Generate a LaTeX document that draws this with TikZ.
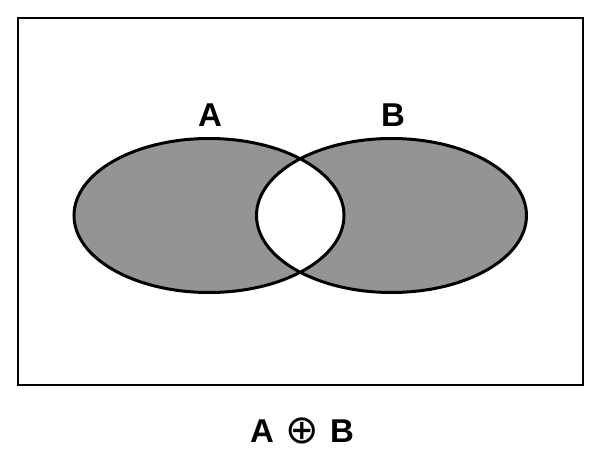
\documentclass[tikz,border=0pt]{standalone}
\usepackage{fontspec}
\setmainfont{Liberation Sans}
\newfontfamily\symfont{DejaVu Sans}
\tikzset{
  setlabel/.style={font=\fontsize{33}{36}\selectfont\bfseries, inner sep=0pt, anchor=base},
  setfill/.style={fill=black!42},
  setedge/.style={draw=black, line width=3pt},
  frame/.style={draw=black, line width=2pt}
}
\begin{document}
\begin{tikzpicture}[x=1pt,y=-1pt]
\useasboundingbox (0,0) rectangle (598,468);
\fill[white] (0,0) rectangle (598,468);
\draw[frame] (18,18) rectangle (583,385);
\coordinate (ca) at (209,215.5);
\coordinate (cb) at (391.5,215.5);
% shaded sets
\fill[setfill] (ca) ellipse [x radius=135pt, y radius=77pt];
\fill[setfill] (cb) ellipse [x radius=135pt, y radius=77pt];
% intersection left white
\begin{scope}
  \clip (ca) ellipse [x radius=135pt, y radius=77pt];
  \fill[white] (cb) ellipse [x radius=135pt, y radius=77pt];
\end{scope}
\draw[setedge] (ca) ellipse [x radius=135pt, y radius=77pt];
\draw[setedge] (cb) ellipse [x radius=135pt, y radius=77pt];
% labels
\node[setlabel] (la) at (210,127) {A};
\node[setlabel] (lb) at (393,127) {B};
\node[setlabel] (ea) at (262,442) {A};
\node[inner sep=0pt, font=\fontsize{40}{44}\selectfont\symfont] (op) at (302,431) {⊕};
\node[setlabel] (eb) at (342,442) {B};
\end{tikzpicture}
\end{document}
